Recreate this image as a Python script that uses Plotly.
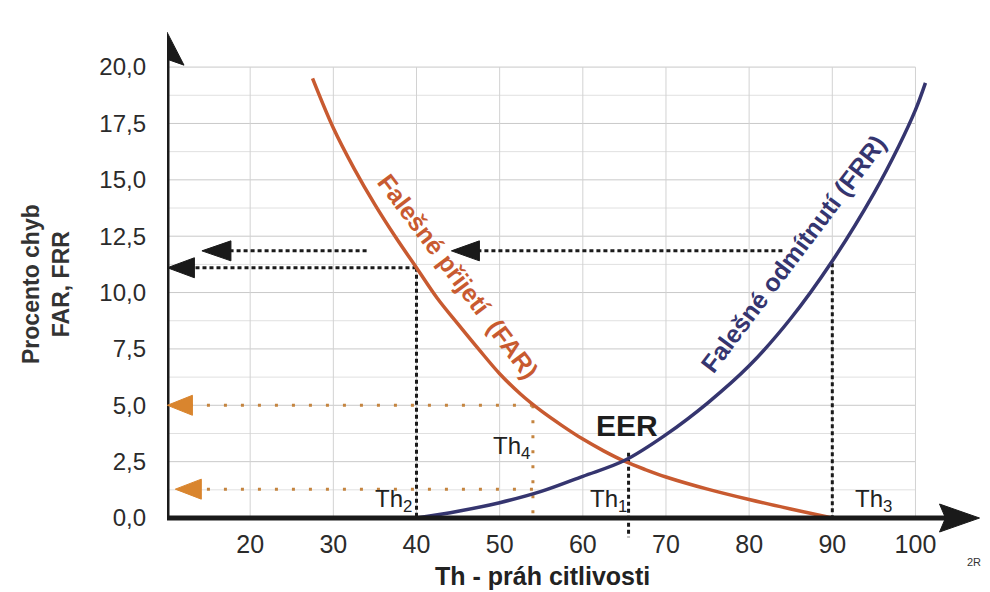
import plotly.graph_objects as go

# ---------------- data ----------------
far_x = [27.5, 30, 32.5, 35, 37.5, 40, 42.5, 45, 47.5, 50, 52.5, 55, 57.5, 60, 62.5, 65, 67.5, 70, 75, 80, 85, 90]
far_y = [19.5, 17.3, 15.5, 13.9, 12.45, 11.1, 9.75, 8.6, 7.48, 6.4, 5.5, 4.75, 4.1, 3.5, 2.98, 2.52, 2.15, 1.82, 1.28, 0.82, 0.4, 0.0]

frr_x = [40, 45, 50, 55, 60, 65, 70, 75, 80, 85, 90, 95, 98, 100, 101.2]
frr_y = [0.0, 0.3, 0.68, 1.18, 1.85, 2.55, 3.7, 5.1, 6.75, 8.85, 11.4, 14.4, 16.5, 18.1, 19.3]

x_ticks = [20, 30, 40, 50, 60, 70, 80, 90, 100]
y_ticks = [0, 2.5, 5, 7.5, 10, 12.5, 15, 17.5, 20]

th2, th4, th1, th3 = 40, 54, 65.5, 90
far_at_th2 = 11.1
upper_level = 11.85
frr_at_th3 = 11.3
far_at_th4 = 5.0
frr_at_th4 = 1.28
eer_level = 2.9

x_title = "Th - práh citlivosti"
y_title = "Procento chyb<br>FAR, FRR"

# ---------------- geometry ----------------
# the page body adds an 8 px offset, so the figure is 8 px smaller
OFF = 8
W, H = 990 - OFF, 592 - OFF
PLOT_L, PLOT_R, PLOT_T, PLOT_B = 167, 982, 22, 555  # in screenshot pixels
ML = PLOT_L - OFF
MT = PLOT_T - OFF
MR = (W + OFF) - PLOT_R
MB = (H + OFF) - PLOT_B
XR = [10, 108]
YR = [-1.64, 22.0]
PW, PH = PLOT_R - PLOT_L, PLOT_B - PLOT_T


def paper(px, py):
    return (px - PLOT_L) / PW, (PLOT_B - py) / PH


FONT = "Liberation Sans, Arial, sans-serif"
BLACK = "#1a1a1a"
ORANGE_DOT = "#c4843f"
ORANGE_HEAD = "#d9852e"
FAR_COL = "#c85a30"
FRR_COL = "#35356f"

fig = go.Figure()

shapes = []
# grid
g = 0.0
i = 0
while g <= 20.001:
    shapes.append(dict(type="line", xref="x", yref="y", x0=10, x1=100, y0=g, y1=g,
                       line=dict(color="#c9c9c9" if i % 2 == 0 else "#e0e0e0", width=1), layer="below"))
    g += 1.25
    i += 1
for v in x_ticks:
    shapes.append(dict(type="line", xref="x", yref="y", x0=v, x1=v, y0=0, y1=20,
                       line=dict(color="#d2d2d2", width=1), layer="below"))


def dline(x0, y0, x1, y1, color, width, dash):
    fig.add_trace(go.Scatter(x=[x0, x1], y=[y0, y1], mode="lines",
                             line=dict(color=color, width=width, dash=dash),
                             hoverinfo="skip", showlegend=False))


# black reading lines
dline(th2, far_at_th2, 10.5, far_at_th2, BLACK, 3, "4px,3px")
dline(84, upper_level, 46, upper_level, BLACK, 3, "4px,3px")
dline(34, upper_level, 16, upper_level, BLACK, 3, "4px,3px")
dline(th2, far_at_th2, th2, 0, BLACK, 3, "4px,3px")
dline(th3, frr_at_th3, th3, 0, BLACK, 3, "4px,3px")
dline(th1, eer_level, th1, -0.85, BLACK, 3, "4px,3px")
# orange reading lines
dline(th4, far_at_th4, 11, far_at_th4, ORANGE_DOT, 3, "3px,14px")
dline(th4, frr_at_th4, 12, frr_at_th4, ORANGE_DOT, 3, "3px,14px")
dline(th4, far_at_th4, th4, -0.2, ORANGE_DOT, 3, "3px,12px")

# curves
fig.add_trace(go.Scatter(x=far_x, y=far_y, mode="lines", line=dict(color=FAR_COL, width=3.5, shape="spline", smoothing=1.0),
                         name="FAR", showlegend=False))
fig.add_trace(go.Scatter(x=frr_x, y=frr_y, mode="lines", line=dict(color=FRR_COL, width=3.5, shape="spline", smoothing=1.0),
                         name="FRR", showlegend=False))


def tri(xa, ya, path, color):
    shapes.append(dict(type="path", xref="x", yref="y", xsizemode="pixel", ysizemode="pixel",
                       xanchor=xa, yanchor=ya, path=path, fillcolor=color,
                       line=dict(color=color, width=1), layer="above"))


# axes with arrow heads
shapes.append(dict(type="line", xref="x", yref="y", x0=10, x1=10, y0=0, y1=20.8,
                   line=dict(color=BLACK, width=5), layer="above"))
shapes.append(dict(type="line", xref="x", yref="y", x0=9.8, x1=104, y0=0, y1=0,
                   line=dict(color=BLACK, width=5), layer="above"))
tri(10, 21.55, "M 0 0 L -17 -33 L 0 -27 L 17 -33 Z", BLACK)
tri(107.7, 0, "M 0 0 L -40 14 L -34 0 L -40 -14 Z", BLACK)
# reading arrows
tri(10.05, far_at_th2, "M 0 0 L 27 10 L 27 -10 Z", BLACK)
tri(14.2, upper_level, "M 0 0 L 29 10 L 29 -10 Z", BLACK)
tri(44.2, upper_level, "M 0 0 L 28 10 L 28 -10 Z", BLACK)
tri(10.05, far_at_th4, "M 0 0 L 25 10 L 25 -10 Z", ORANGE_HEAD)
tri(11.0, frr_at_th4, "M 0 0 L 26 10 L 26 -10 Z", ORANGE_HEAD)

annotations = []


def txt(px, py, text, size, color="#222", bold=False, angle=0, family=FONT):
    xp, yp = paper(px, py)
    annotations.append(dict(xref="paper", yref="paper", x=xp, y=yp, text=("<b>%s</b>" % text) if bold else text,
                            showarrow=False, textangle=angle, xanchor="center", yanchor="middle",
                            font=dict(family=family, size=size, color=color)))


txt(458, 276, "Falešné přijetí  (FAR)", 25, FAR_COL, bold=True, angle=53)
txt(793, 254, "Falešné odmítnutí (FRR)", 25, FRR_COL, bold=True, angle=-53)
txt(627, 425, "EER", 30, "#1e1e1e", bold=True)
txt(393, 500, "Th<sub>2</sub>", 24, "#222")
txt(511, 447, "Th<sub>4</sub>", 24, "#222")
txt(608, 500, "Th<sub>1</sub>", 24, "#222")
txt(873, 500, "Th<sub>3</sub>", 24, "#222")
txt(974, 562, "2R", 11, "#333")
txt(542, 576, x_title, 25, "#222", bold=True)
txt(46, 284, y_title, 23, "#333", bold=True, angle=-90)

fig.update_layout(
    width=W, height=H,
    margin=dict(l=ML, r=MR, t=MT, b=MB, pad=0),
    paper_bgcolor="white", plot_bgcolor="white",
    separators=", ",
    showlegend=False,
    shapes=shapes,
    annotations=annotations,
    font=dict(family=FONT, color="#2b2b2b"),
    xaxis=dict(range=XR, showgrid=False, zeroline=False, showline=False, ticks="",
               tickvals=x_ticks, tickformat="d", tickfont=dict(size=25, color="#2b2b2b"),
               anchor="free", position=(0 - YR[0]) / (YR[1] - YR[0]), ticklabelstandoff=9),
    yaxis=dict(range=YR, showgrid=False, zeroline=False, showline=False, ticks="",
               tickvals=y_ticks, tickformat=".1f", tickfont=dict(size=24, color="#2b2b2b"),
               ticklabelstandoff=20),
)

fig.write_html("out.html")
